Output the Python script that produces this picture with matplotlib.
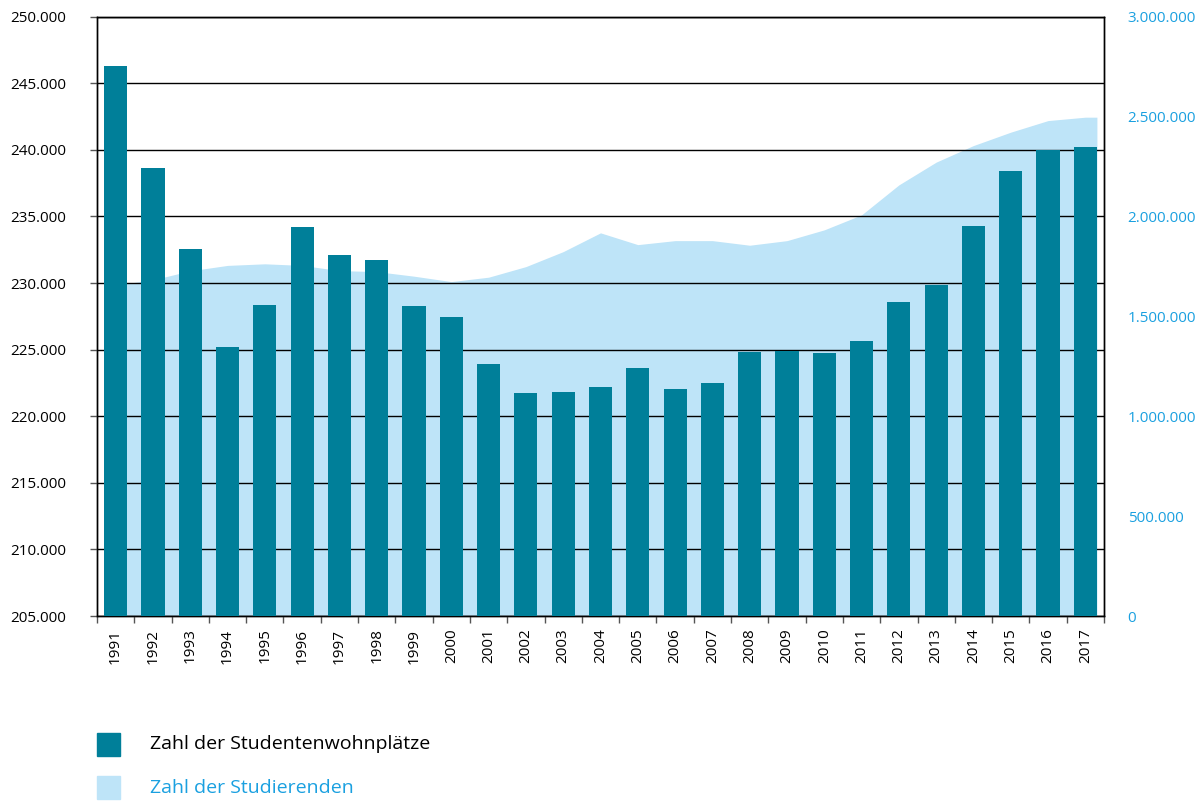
import matplotlib
matplotlib.use("Agg")
import matplotlib.pyplot as plt
import matplotlib.patches as mpatches
from matplotlib.ticker import FuncFormatter, MultipleLocator
import numpy as np

plt.rcParams["font.family"] = ["Open Sans", "DejaVu Sans"]

years = [str(y) for y in range(1991, 2018)]
wohnplaetze = [246300, 238630, 232550, 225180, 228340, 234200, 232100, 231720,
               228270, 227440, 223900, 221730, 221800, 222180, 223600, 222030,
               222480, 224810, 224900, 224730, 225630, 228560, 229840, 234270,
               238400, 239990, 240210]
studierende = [1657000, 1683000, 1728000, 1755000, 1763000, 1755000, 1729000,
               1724000, 1701000, 1674000, 1696000, 1749000, 1824000, 1918000,
               1859000, 1879000, 1879000, 1856000, 1879000, 1933000, 2008000,
               2158000, 2272000, 2355000, 2422000, 2480000, 2497000]

teal = "#007f99"
light = "#bee4f8"
blue = "#1aa0e0"


def dotted(v, pos):
    return f"{v:,.0f}".replace(",", ".")


fig = plt.figure(figsize=(12.04, 8.02), dpi=100)
ax = fig.add_axes([97 / 1204, 1 - 616 / 802, 1007 / 1204, 599.3 / 802])
ax2 = ax.twinx()
ax.set_zorder(ax2.get_zorder() + 1)
ax.patch.set_visible(False)

x = np.arange(len(years))
bw = 0.62

# area for students on the right axis (behind)
xa = np.concatenate([[x[0] - bw / 2], x, [x[-1] + bw / 2]])
ya = np.concatenate([[studierende[0]], studierende, [studierende[-1]]])
ax2.fill_between(xa, ya, 0, color=light, linewidth=0)
ax2.set_ylim(0, 3000000)
ax2.yaxis.set_major_locator(MultipleLocator(500000))
ax2.yaxis.set_major_formatter(FuncFormatter(dotted))
ax2.tick_params(axis="y", length=0, pad=17, labelsize=11, labelcolor=blue)

# bars for dorm places on the left axis
ax.bar(x, wohnplaetze, width=bw, color=teal, zorder=3)
ax.set_ylim(205000, 250000)
ax.set_xlim(-0.5, len(years) - 0.5)
ax.yaxis.set_major_locator(MultipleLocator(5000))
ax.yaxis.set_major_formatter(FuncFormatter(dotted))
ax.yaxis.grid(True, color="black", linewidth=1.0)
ax.set_axisbelow(True)
ax.tick_params(axis="y", length=5, width=1, color="#555555", pad=17, labelsize=11)

ax.set_xticks(x)
ax.set_xticklabels(years, rotation=90, fontsize=11)
ax.set_xticks(np.arange(-0.5, len(years)), minor=True)
ax.tick_params(axis="x", which="major", length=0, pad=9)
ax.tick_params(axis="x", which="minor", length=5, width=1, color="#555555")

for a in (ax, ax2):
    for s in a.spines.values():
        s.set_color("black")
        s.set_linewidth(1.0)

# legend
fig.add_artist(mpatches.Rectangle((97 / 1204, 1 - 756 / 802), 23 / 1204, 23 / 802,
                                  transform=fig.transFigure, color=teal))
fig.add_artist(mpatches.Rectangle((97 / 1204, 1 - 799 / 802), 23 / 1204, 23 / 802,
                                  transform=fig.transFigure, color=light))
fig.text(150 / 1204, 1 - 744 / 802, "Zahl der Studentenwohnplätze", fontsize=14,
         va="center", color="black")
fig.text(150 / 1204, 1 - 788 / 802, "Zahl der Studierenden", fontsize=14,
         va="center", color=blue)

fig.savefig("out.png", dpi=100)
